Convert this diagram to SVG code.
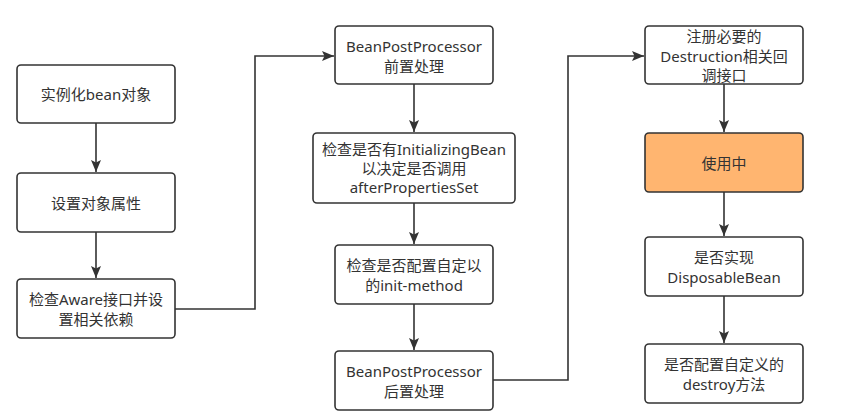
<svg xmlns="http://www.w3.org/2000/svg" width="852" height="420" viewBox="0 0 852 420">
<defs>
<style>
.box{fill:#fff;stroke:#333;stroke-width:1.6}
.hl{fill:#FFB570}
.t{font-family:"Noto Sans","Noto Sans CJK SC",sans-serif;font-size:15px;fill:#333;text-anchor:middle;dominant-baseline:central}
.c{fill:none;stroke:#333;stroke-width:1.6}
</style>
<marker id="arr" markerUnits="userSpaceOnUse" markerWidth="13" markerHeight="11" refX="12" refY="5" orient="auto">
<path d="M0,0 L12,5 L0,10 L2.5,5 z" fill="#333"/>
</marker>
</defs>
<rect width="852" height="420" fill="#fff"/>
<g id="connectors">
<path class="c" d="M96,123 V172" marker-end="url(#arr)"/>
<path class="c" d="M96,232 V278" marker-end="url(#arr)"/>
<path class="c" d="M175,309 H255 V56 H334" marker-end="url(#arr)"/>
<path class="c" d="M414,84 V132" marker-end="url(#arr)"/>
<path class="c" d="M414,203 V244" marker-end="url(#arr)"/>
<path class="c" d="M414,304 V350" marker-end="url(#arr)"/>
<path class="c" d="M493,380 H568 V56 H644" marker-end="url(#arr)"/>
<path class="c" d="M724,84 V132" marker-end="url(#arr)"/>
<path class="c" d="M724,192 V236" marker-end="url(#arr)"/>
<path class="c" d="M724,296 V343" marker-end="url(#arr)"/>
</g>
<g id="n1"><rect class="box" x="17" y="65" width="158" height="58" rx="4"/><text class="t" x="96" y="94">实例化bean对象</text></g>
<g id="n2"><rect class="box" x="17" y="173" width="158" height="59" rx="4"/><text class="t" x="96" y="202.5">设置对象属性</text></g>
<g id="n3"><rect class="box" x="17" y="279" width="158" height="59" rx="4"/><text class="t" x="96" y="298.5">检查Aware接口并设</text><text class="t" x="96" y="318.5">置相关依赖</text></g>
<g id="n4"><rect class="box" x="335" y="26" width="158" height="58" rx="4"/><text class="t" x="414" y="45.5">BeanPostProcessor</text><text class="t" x="414" y="65.5">前置处理</text></g>
<g id="n5"><rect class="box" x="313" y="133" width="202" height="70" rx="4"/><text class="t" x="414" y="149">检查是否有InitializingBean</text><text class="t" x="414" y="168">以决定是否调用</text><text class="t" x="414" y="187">afterPropertiesSet</text></g>
<g id="n6"><rect class="box" x="335" y="245" width="158" height="59" rx="4"/><text class="t" x="414" y="264.5">检查是否配置自定以</text><text class="t" x="414" y="284.5">的init-method</text></g>
<g id="n7"><rect class="box" x="335" y="351" width="158" height="59" rx="4"/><text class="t" x="414" y="370.5">BeanPostProcessor</text><text class="t" x="414" y="390.5">后置处理</text></g>
<g id="n8"><rect class="box" x="645" y="26" width="158" height="58" rx="4"/><text class="t" x="724" y="36">注册必要的</text><text class="t" x="724" y="55.5">Destruction相关回</text><text class="t" x="724" y="75">调接口</text></g>
<g id="n9"><rect class="box hl" x="645" y="133" width="158" height="59" rx="4"/><text class="t" x="724" y="162.5">使用中</text></g>
<g id="n10"><rect class="box" x="645" y="237" width="158" height="59" rx="4"/><text class="t" x="724" y="256.5">是否实现</text><text class="t" x="724" y="276.5">DisposableBean</text></g>
<g id="n11"><rect class="box" x="645" y="344" width="158" height="59" rx="4"/><text class="t" x="724" y="363.5">是否配置自定义的</text><text class="t" x="724" y="383.5">destroy方法</text></g>
</svg>
